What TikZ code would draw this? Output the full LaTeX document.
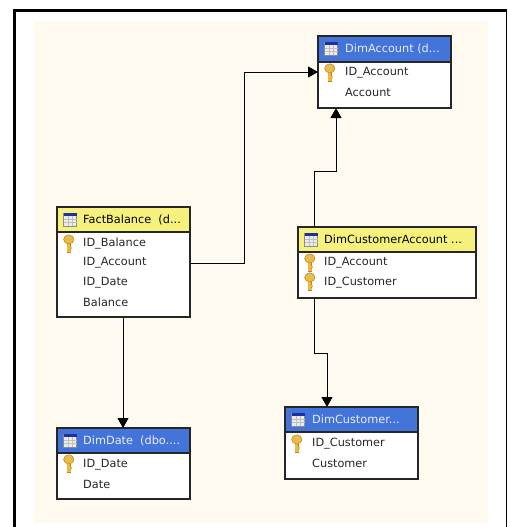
\documentclass[tikz,border=0pt]{standalone}
\usepackage{fontspec}
\setmainfont{DejaVu Sans}
\usetikzlibrary{arrows.meta,calc}
\definecolor{cream}{HTML}{FFFAF0}
\definecolor{hblue}{HTML}{4374DA}
\definecolor{hyellow}{HTML}{F6F17C}
\definecolor{keygold}{HTML}{EDB93F}
\definecolor{keydark}{HTML}{B8862A}
\definecolor{gridblue}{HTML}{1E2F9E}
\tikzset{
  x=1pt,y=-1pt,
  tablebody/.style={draw=black!85,line width=1.2pt,fill=white,inner sep=0pt,outer sep=0pt,anchor=north west},
  tablehead/.style={draw=black!85,line width=1.2pt,inner sep=0pt,outer sep=0pt,anchor=north west},
  rowtext/.style={anchor=west,inner sep=0pt,font=\fontsize{11.3}{13}\selectfont,text=black!85},
  titletext/.style={anchor=west,inner sep=0pt,font=\fontsize{11.3}{13}\selectfont},
  link/.style={draw=black,line width=0.9pt,-{Triangle[length=10pt,width=11pt]}},
  pics/tableicon/.style={code={
    \fill[white!92!black] (0,0) rectangle (13,13);
    \draw[black!45,line width=0.5pt] (0,0) rectangle (13,13);
    \foreach \q in {4.3,8.6}{\draw[black!25,line width=0.5pt] (\q,3) -- (\q,13);}
    \foreach \q in {6.3,9.6}{\draw[black!25,line width=0.5pt] (0,\q) -- (13,\q);}
    \fill[gridblue] (0,0) rectangle (13,2.6);
  }},
  pics/keyicon/.style={code={
    \fill[keydark] (4,5) rectangle (7.8,17.5);
    \fill[keygold] (4.3,5) rectangle (6.8,17);
    \fill[keygold] (6.8,12) rectangle (9,13.8);
    \fill[keygold] (6.8,15) rectangle (8.4,16.6);
    \fill[keygold,draw=keydark,line width=0.5pt] (5.8,4.4) ellipse [x radius=5.2,y radius=4.6];
    \fill[white!75!black] (5.8,2.4) ellipse [x radius=1.8,y radius=1.2];
  }}
}
\newcommand{\tablebox}[7]{%
  % name, x1, y1, x2, yhead, y2, header colour
  \node[tablebody,minimum width=#4-#2,minimum height=#6-#3] (#1) at (#2,#3) {};
  \node[tablehead,fill=#7,minimum width=#4-#2,minimum height=#5-#3] (#1head) at (#2,#3) {};
  \pic at ($(#2,#3)+(6.5,6)$) {tableicon};
}
\begin{document}
\begin{tikzpicture}
\useasboundingbox (0,0) rectangle (507,527);
\fill[white] (0,0) rectangle (507,527);
\fill[cream] (34,21) rectangle (488,523);
\fill[black] (13,9) rectangle (507,12);
\fill[black] (13,9) rectangle (16,527);
\fill[black] (505.6,9) rectangle (507,527);

\tablebox{dimaccount}{318}{36}{451}{62}{108}{hblue}
\node[titletext,text=white!92!blue] (dimaccounttitle) at (345,48.5) {DimAccount (d...};
\pic at (324,64) {keyicon};
\node[rowtext] (dimaccountid) at (345,73) {ID\_Account};
\node[rowtext] (dimaccountname) at (345,92) {Account};

\tablebox{fact}{57}{207}{190}{232}{317}{hyellow}
\node[titletext] (facttitle) at (83,219.5) {FactBalance\ \ (d...};
\pic at (63,235) {keyicon};
\node[rowtext] (factid) at (83,244) {ID\_Balance};
\node[rowtext] (factacct) at (83,263) {ID\_Account};
\node[rowtext] (factdate) at (83,283) {ID\_Date};
\node[rowtext] (factbal) at (83,302) {Balance};

\tablebox{custacct}{298}{227}{476}{252}{298}{hyellow}
\node[titletext] (custaccttitle) at (324,239.5) {DimCustomerAccount ...};
\pic at (304,254) {keyicon};
\pic at (304,273) {keyicon};
\node[rowtext] (custacctid) at (324,263) {ID\_Account};
\node[rowtext] (custacctcust) at (324,283) {ID\_Customer};

\tablebox{dimcust}{285}{407}{418}{432}{479}{hblue}
\node[titletext,text=white!92!blue] (dimcusttitle) at (312,419.5) {DimCustomer...};
\pic at (291,435) {keyicon};
\node[rowtext] (dimcustid) at (312,444) {ID\_Customer};
\node[rowtext] (dimcustname) at (312,463) {Customer};

\tablebox{dimdate}{57}{428}{190}{453}{499}{hblue}
\node[titletext,text=white!92!blue] (dimdatetitle) at (83,440.5) {DimDate\ \ (dbo....};
\pic at (63,455) {keyicon};
\node[rowtext] (dimdateid) at (83,465) {ID\_Date};
\node[rowtext] (dimdatename) at (83,484) {Date};

\coordinate (a1) at (244,263);
\coordinate (a2) at (244,72);
\draw[link] (fact.east |- a1) -- (a1) -- (a2) -- (dimaccount.west |- a2);

\coordinate (b1) at (314,171);
\coordinate (b2) at (336,171);
\draw[link] (custacct.north -| b1) -- (b1) -- (b2) -- (dimaccount.south -| b2);

\coordinate (c1) at (314,353);
\coordinate (c2) at (327,353);
\draw[link] (custacct.south -| c1) -- (c1) -- (c2) -- (dimcust.north -| c2);

\coordinate (d1) at (123,370);
\draw[link] (fact.south -| d1) -- (dimdate.north -| d1);
\end{tikzpicture}
\end{document}
